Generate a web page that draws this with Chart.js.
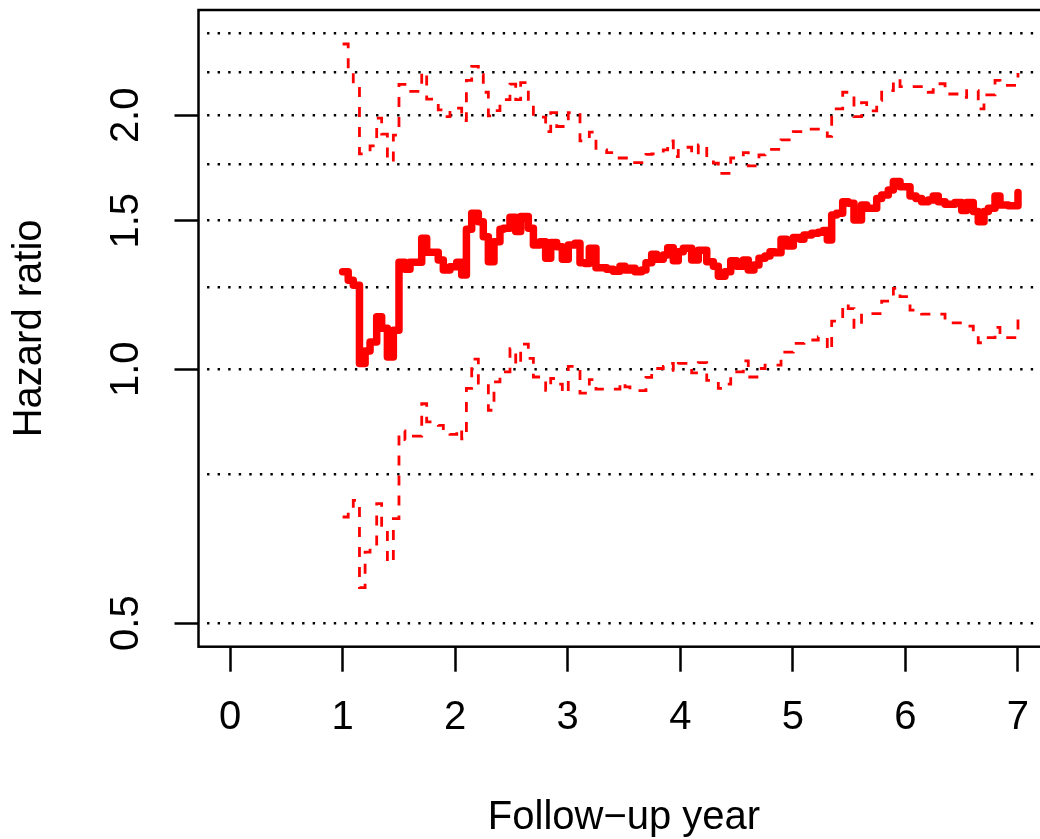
<!DOCTYPE html>
<html>
<head>
<meta charset="utf-8">
<script src="https://cdn.jsdelivr.net/npm/chart.js@4.4.1/dist/chart.umd.min.js"></script>
<style>
  html, body { margin: 0; padding: 0; background: #fff; overflow: hidden; }
  canvas { display: block; }
</style>
</head>
<body>
<canvas id="hrChart" width="1050" height="839"></canvas>
<script>
// step times (follow-up year), one row per year
const stepYears = [
  1.0, 1.05, 1.095, 1.15, 1.2, 1.244, 1.303, 1.347, 1.398, 1.451, 1.501, 1.554, 1.599, 1.703, 1.747, 1.85, 1.895, 1.954,
  2.014, 2.058, 2.1, 2.147, 2.206, 2.25, 2.295, 2.345, 2.398, 2.43, 2.487, 2.538, 2.582, 2.65, 2.695, 2.754, 2.804, 2.849, 2.902, 2.952,
  3.005, 3.065, 3.109, 3.154, 3.192, 3.251, 3.346, 3.405, 3.464, 3.509, 3.553, 3.598, 3.657, 3.695, 3.746, 3.79, 3.849, 3.888, 3.938, 3.982,
  4.027, 4.101, 4.16, 4.235, 4.294, 4.338, 4.397, 4.448, 4.501, 4.56, 4.604, 4.655, 4.699, 4.753, 4.797, 4.841, 4.895, 4.945,
  5.004, 5.064, 5.099, 5.167, 5.226, 5.27, 5.306, 5.345, 5.389, 5.443, 5.492, 5.543, 5.61, 5.656, 5.745, 5.789, 5.848, 5.893, 5.952,
  6.041, 6.094, 6.144, 6.203, 6.247, 6.292, 6.352, 6.44, 6.5, 6.544, 6.603, 6.647, 6.698, 6.737, 6.796, 6.84, 6.914, 7.0
];

// hazard ratio estimate
const hrValues = [
  1.305, 1.275, 1.258, 1.016, 1.051, 1.077, 1.154, 1.118, 1.034, 1.112, 1.339, 1.314, 1.339, 1.43, 1.376, 1.347, 1.311, 1.323,
  1.339, 1.293, 1.465, 1.531, 1.496, 1.436, 1.341, 1.416, 1.465, 1.469, 1.514, 1.456, 1.517, 1.469, 1.404, 1.416, 1.354, 1.413, 1.397, 1.35,
  1.404, 1.41, 1.337, 1.335, 1.391, 1.319, 1.314, 1.307, 1.325, 1.311, 1.317, 1.305, 1.311, 1.337, 1.369, 1.35, 1.366, 1.393, 1.345, 1.378,
  1.391, 1.347, 1.384, 1.341, 1.325, 1.289, 1.305, 1.345, 1.325, 1.347, 1.311, 1.329, 1.354, 1.362, 1.378, 1.374, 1.426, 1.4,
  1.433, 1.426, 1.443, 1.449, 1.453, 1.46, 1.423, 1.523, 1.531, 1.58, 1.573, 1.503, 1.566, 1.552, 1.594, 1.609, 1.631, 1.669, 1.646,
  1.605, 1.594, 1.58, 1.587, 1.605, 1.58, 1.569, 1.576, 1.542, 1.576, 1.538, 1.496, 1.538, 1.552, 1.605, 1.566, 1.562, 1.62
];

// upper confidence bound
const upperValues = [
  2.43, 2.26, 2.17, 1.80, 1.81, 1.84, 1.985, 1.90, 1.763, 1.895, 2.176, 2.135, 2.135, 2.25, 2.09, 2.03, 1.993, 2.04,
  2.04, 1.972, 2.2, 2.286, 2.235, 2.13, 1.997, 2.026, 2.087, 2.087, 2.178, 2.087, 2.187, 2.077, 1.99, 1.99, 1.913, 2.015, 1.94, 1.94,
  2.015, 2.015, 1.865, 1.865, 1.91, 1.82, 1.806, 1.78, 1.78, 1.78, 1.758, 1.758, 1.758, 1.798, 1.80, 1.80, 1.82, 1.865, 1.787, 1.833,
  1.833, 1.795, 1.845, 1.77, 1.755, 1.707, 1.707, 1.78, 1.78, 1.806, 1.742, 1.742, 1.795, 1.822, 1.822, 1.822, 1.87, 1.87,
  1.913, 1.913, 1.926, 1.926, 1.926, 1.926, 1.888, 2.036, 2.036, 2.13, 2.13, 1.993, 2.07, 2.024, 2.083, 2.14, 2.14, 2.207, 2.163,
  2.163, 2.163, 2.163, 2.13, 2.18, 2.18, 2.12, 2.12, 2.1, 2.14, 2.14, 2.035, 2.115, 2.115, 2.2, 2.17, 2.17, 2.245
];

// lower confidence bound
const lowerValues = [
  0.668, 0.683, 0.699, 0.551, 0.607, 0.613, 0.693, 0.65, 0.59, 0.665, 0.845, 0.825, 0.833, 0.91, 0.866, 0.858, 0.842, 0.837,
  0.85, 0.827, 0.949, 1.028, 0.963, 0.963, 0.894, 0.966, 0.993, 0.993, 1.058, 1.011, 1.071, 1.03, 0.979, 0.979, 0.944, 0.975, 0.96, 0.937,
  1.008, 1.008, 0.937, 0.937, 0.972, 0.947, 0.947, 0.947, 0.965, 0.953, 0.943, 0.943, 0.943, 0.978, 1.002, 1.002, 1.008, 1.016, 0.997, 1.016,
  1.016, 0.99, 1.018, 0.97, 0.97, 0.949, 0.96, 0.993, 0.993, 1.023, 0.979, 0.979, 1.002, 1.011, 1.011, 1.011, 1.048, 1.048,
  1.073, 1.073, 1.083, 1.083, 1.092, 1.092, 1.053, 1.14, 1.14, 1.195, 1.18, 1.121, 1.164, 1.164, 1.164, 1.204, 1.204, 1.247, 1.219,
  1.175, 1.175, 1.162, 1.162, 1.162, 1.162, 1.135, 1.135, 1.135, 1.125, 1.107, 1.075, 1.09, 1.09, 1.121, 1.09, 1.09, 1.146
];

const xTicks = [0, 1, 2, 3, 4, 5, 6, 7];
const yTicks = [0.5, 1.0, 1.5, 2.0];
const gridLevels = [0.5, 0.75, 1.0, 1.25, 1.5, 1.75, 2.0, 2.25, 2.5];
const xLimits = [0, 7];
const yLimits = [0.5, 2.5];

// R style 4% axis extension (log axis extended in log space)
const xPad = (xLimits[1] - xLimits[0]) * 0.04;
const yLogPad = (Math.log10(yLimits[1]) - Math.log10(yLimits[0])) * 0.04;
const yMin = Math.pow(10, Math.log10(yLimits[0]) - yLogPad);
const yMax = Math.pow(10, Math.log10(yLimits[1]) + yLogPad);

function toPoints(vals) {
    return stepYears.map((t, i) => ({ x: t, y: vals[i] }));
}

// keep tick labels from pushing the plot region around
function noLabelPadding(s) {
    s.paddingTop = 0;
    s.paddingBottom = 0;
    s.paddingLeft = 0;
    s.paddingRight = 0;
}

Chart.defaults.font.family = "'Liberation Sans', Arial, Helvetica, sans-serif";
Chart.defaults.color = '#000';

// box round the plot region
const framePlugin = {
    id: 'frame',
    afterDraw(chart) {
        const { ctx, chartArea: a } = chart;
        ctx.save();
        ctx.strokeStyle = '#000';
        ctx.lineWidth = 2.5;
        ctx.strokeRect(a.left, a.top, a.right - a.left, a.bottom - a.top);
        ctx.restore();
    }
};

const ciLine = {
    borderColor: '#ff0000',
    borderWidth: 2.8,
    borderDash: [10, 10],
    stepped: 'before',
    pointRadius: 0,
    fill: false
};

new Chart(document.getElementById('hrChart'), {
    type: 'line',
    data: {
        datasets: [
            {
                label: 'Hazard ratio',
                data: toPoints(hrValues),
                borderColor: '#ff0000',
                borderWidth: 7.5,
                stepped: 'before',
                pointRadius: 0,
                borderCapStyle: 'round',
                borderJoinStyle: 'round',
                fill: false
            },
            Object.assign({ label: 'Upper', data: toPoints(upperValues) }, ciLine),
            Object.assign({ label: 'Lower', data: toPoints(lowerValues) }, ciLine)
        ]
    },
    options: {
        responsive: false,
        animation: false,
        devicePixelRatio: 1,
        layout: { padding: { top: 10, left: 0, right: 0.5, bottom: 0 } },
        plugins: {
            legend: { display: false },
            tooltip: { enabled: false }
        },
        scales: {
            x: {
                type: 'linear',
                position: 'bottom',
                min: xLimits[0] - xPad,
                max: xLimits[1] + xPad,
                afterBuildTicks: s => { s.ticks = xTicks.map(v => ({ value: v })); },
                afterFit: s => { s.height = 192.3; noLabelPadding(s); },
                ticks: {
                    font: { size: 40 },
                    padding: 22,
                    maxRotation: 0,
                    autoSkip: false,
                    callback: v => String(v)
                },
                grid: {
                    drawOnChartArea: false,
                    drawTicks: true,
                    tickLength: 25,
                    tickWidth: 2.5,
                    tickColor: '#000'
                },
                border: { display: false },
                title: {
                    display: true,
                    text: 'Follow\u2212up year',
                    font: { size: 40, lineHeight: 1.05 },
                    padding: 0
                }
            },
            y: {
                type: 'logarithmic',
                position: 'left',
                min: yMin,
                max: yMax,
                afterBuildTicks: s => { s.ticks = yTicks.map(v => ({ value: v })); },
                afterFit: s => { s.width = 198.5; noLabelPadding(s); },
                ticks: {
                    font: { size: 40 },
                    minRotation: 90,
                    maxRotation: 90,
                    crossAlign: 'center',
                    padding: 20,
                    autoSkip: false,
                    callback: v => Number(v).toFixed(1)
                },
                grid: {
                    drawOnChartArea: false,
                    drawTicks: true,
                    tickLength: 24,
                    tickWidth: 2.5,
                    tickColor: '#000'
                },
                border: { display: false },
                title: {
                    display: true,
                    text: 'Hazard ratio',
                    font: { size: 40 },
                    padding: { top: 6, bottom: 0 }
                }
            },
            // dotted reference lines
            yg: {
                type: 'logarithmic',
                position: 'right',
                min: yMin,
                max: yMax,
                afterBuildTicks: s => { s.ticks = gridLevels.map(v => ({ value: v })); },
                afterFit: s => { s.width = 0; noLabelPadding(s); },
                ticks: { display: false },
                grid: {
                    drawOnChartArea: true,
                    drawTicks: false,
                    color: '#000',
                    lineWidth: 2.4
                },
                border: { display: false, dash: [2.4, 8.16], dashOffset: 2 }
            }
        }
    },
    plugins: [framePlugin]
});
</script>
</body>
</html>
